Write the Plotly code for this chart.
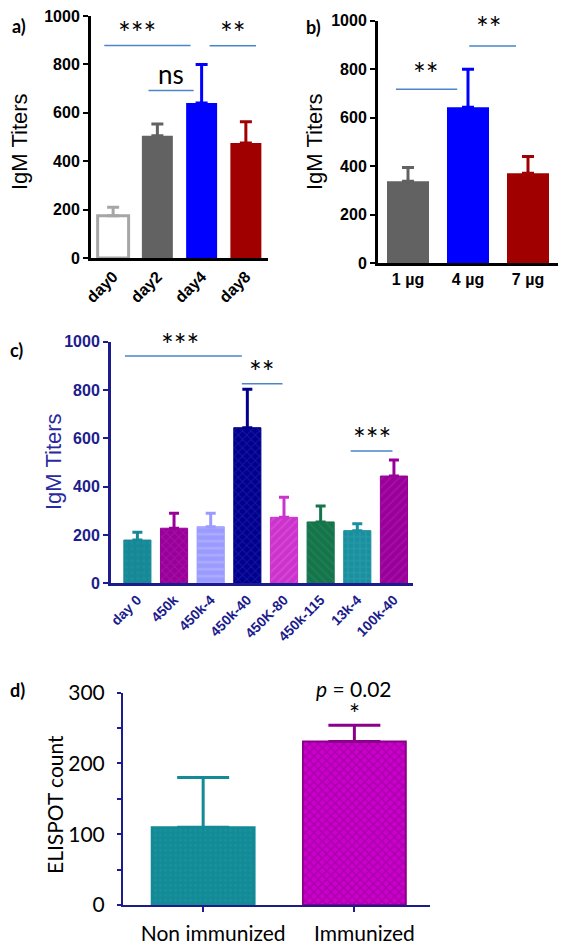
import plotly.graph_objects as go

W, H = 568, 951

# ---------------- data ----------------
a_cats = ["day0", "day2", "day4", "day8"]
a_vals = [175, 505, 640, 475]
a_errs = [35, 49, 160, 88]
a_fill = ["#ffffff", "#626262", "#0000ff", "#a00000"]
a_line = ["#a6a6a6", "#626262", "#0000ff", "#a00000"]

b_cats = ["1 µg", "4 µg", "7 µg"]
b_vals = [337, 643, 370]
b_errs = [57, 157, 70]
b_fill = ["#626262", "#0000ff", "#a00000"]

c_cats = ["day 0", "450k", "450k-4", "450k-40", "450K-80", "450k-115", "13k-4", "100k-40"]
c_vals = [179, 228, 234, 644, 273, 254, 218, 444]
c_errs = [32, 62, 56, 159, 83, 66, 28, 66]
c_fill = ["#178896", "#990099", "#9a9aff", "#00008b", "#cc33cc", "#15744a", "#1a8f9e", "#990099"]
c_pfg = ["#1e95a3", "#b020b0", "#c4c4ff", "#2a2ac0", "#e060e0", "#2a8a5e", "#3aaab8", "#b020b0"]
c_shape = [".", "x", "-", "x", "/", "\\", "+", "/"]

d_cats = ["Non immunized", "Immunized"]
d_vals = [110, 231]
d_errs = [70, 23]
d_fill = ["#138a96", "#cc00cc"]
d_pfg = ["#1a9aa6", "#8b008b"]
d_edge = ["#138a96", "#8b008b"]
d_shape = [".", "x"]

# significance brackets: (x0, x1, y_line, text, x_text, y_text, size)
sig_a = [(-0.2, 1.75, 878, "***", 0.55, 935, 30), (0.8, 1.82, 692, "ns", 1.3, 760, 26),
         (2.18, 3.23, 877, "**", 2.7, 935, 30)]
sig_b = [(-0.2, 0.82, 717, "**", 0.3, 785, 30), (1.02, 1.8, 896, "**", 1.35, 975, 30)]
sig_c = [(-0.34, 2.85, 941, "***", 1.17, 990, 30), (2.85, 3.96, 826, "**", 3.4, 880, 30),
         (5.82, 6.96, 548, "***", 6.4, 600, 30)]

NAVY = "#1c1c8c"
SIGBLUE = "#4a86c8"


def px(x):
    return x / W


def py(y):
    return 1 - y / H


fig = go.Figure()

# ---- panel a ----
for i, c in enumerate(a_cats):
    fig.add_trace(go.Bar(
        x=[c], y=[a_vals[i]], width=0.7, xaxis="x", yaxis="y",
        marker=dict(color=a_fill[i], line=dict(color=a_line[i], width=3 if i == 0 else 0)),
        error_y=dict(type="data", array=[a_errs[i]], arrayminus=[0], symmetric=False,
                     color=a_line[i], thickness=3, width=6),
        showlegend=False, hoverinfo="skip"))

# ---- panel b ----
for i, c in enumerate(b_cats):
    fig.add_trace(go.Bar(
        x=[c], y=[b_vals[i]], width=0.7, xaxis="x2", yaxis="y2",
        marker=dict(color=b_fill[i], line=dict(width=0)),
        error_y=dict(type="data", array=[b_errs[i]], arrayminus=[0], symmetric=False,
                     color=b_fill[i], thickness=3, width=6),
        showlegend=False, hoverinfo="skip"))

# ---- panel c ----
for i, c in enumerate(c_cats):
    fig.add_trace(go.Bar(
        x=[c], y=[c_vals[i]], width=0.74, xaxis="x3", yaxis="y3",
        marker=dict(color=c_fill[i], line=dict(color=c_fill[i], width=1),
                    pattern=dict(shape=c_shape[i], fgcolor=c_pfg[i], bgcolor=c_fill[i],
                                 size=6 if c_shape[i] != "-" else 7, solidity=0.3)),
        error_y=dict(type="data", array=[c_errs[i]], arrayminus=[0], symmetric=False,
                     color=c_fill[i], thickness=3, width=5),
        showlegend=False, hoverinfo="skip"))

# ---- panel d ----
for i, c in enumerate(d_cats):
    fig.add_trace(go.Bar(
        x=[c], y=[d_vals[i]], width=0.68, xaxis="x4", yaxis="y4",
        marker=dict(color=d_fill[i], line=dict(color=d_edge[i], width=2),
                    pattern=dict(shape=d_shape[i], fgcolor=d_pfg[i], bgcolor=d_fill[i],
                                 size=6 if i == 1 else 5, solidity=0.45 if i == 1 else 0.3)),
        error_y=dict(type="data", array=[d_errs[i]], arrayminus=[0], symmetric=False,
                     color=d_edge[i] if i == 1 else d_fill[i], thickness=3, width=26),
        showlegend=False, hoverinfo="skip"))

bold_ab = dict(family="Liberation Sans", size=16, color="black", weight="bold")
bold_c = dict(family="Liberation Sans", size=16, color=NAVY, weight="bold")

common = dict(showgrid=False, zeroline=False, automargin=False)

fig.update_layout(
    width=W, height=H, margin=dict(l=0, r=0, t=0, b=0, autoexpand=False),
    paper_bgcolor="white", plot_bgcolor="white", barmode="overlay",
    xaxis=dict(domain=[px(91), px(268)], range=[-0.5, 3.5], type="category",
               showline=True, linecolor="black", linewidth=3, ticks="",
               tickangle=-45, tickfont=bold_ab, anchor="y", **common),
    yaxis=dict(domain=[py(258), py(16)], range=[0, 1000], dtick=200,
               showline=True, linecolor="black", linewidth=3, ticks="outside", ticklen=5,
               tickwidth=2, tickcolor="black", tickfont=bold_ab, anchor="x", **common),
    xaxis2=dict(domain=[px(378), px(558)], range=[-0.5, 2.5], type="category",
                showline=True, linecolor="black", linewidth=3, ticks="",
                tickangle=0, tickfont=bold_ab, anchor="y2", **common),
    yaxis2=dict(domain=[py(263), py(20.7)], range=[0, 1000], dtick=200,
                showline=True, linecolor="black", linewidth=3, ticks="outside", ticklen=5,
                tickwidth=2, tickcolor="black", tickfont=bold_ab, anchor="x2", **common),
    xaxis3=dict(domain=[px(111), px(413)], range=[-0.72, 7.52], type="category",
                showline=True, linecolor=NAVY, linewidth=3, ticks="",
                tickangle=-45, tickfont=dict(family="Liberation Sans", size=14, color=NAVY, weight="bold"),
                anchor="y3", **common),
    yaxis3=dict(domain=[py(583.3), py(341.7)], range=[0, 1000], dtick=200,
                showline=True, linecolor=NAVY, linewidth=3, ticks="outside", ticklen=5,
                tickwidth=2, tickcolor=NAVY, tickfont=bold_c, anchor="x3", **common),
    xaxis4=dict(domain=[px(123), px(430)], range=[-0.53, 1.5], type="category",
                showline=True, linecolor=NAVY, linewidth=2, ticks="outside", ticklen=5,
                tickwidth=2, tickcolor=NAVY, ticklabelshift=10, ticklabelstandoff=4,
                tickfont=dict(family="Lato", size=21, color="black"),
                anchor="y4", **common),
    yaxis4=dict(domain=[py(905), py(692.7)], range=[0, 300], dtick=100,
                showline=True, linecolor=NAVY, linewidth=2, ticks="outside", ticklen=4,
                tickwidth=2, tickcolor=NAVY, ticklabelstandoff=8,
                minor=dict(dtick=50, ticks="outside", ticklen=4, tickwidth=2, tickcolor=NAVY),
                tickfont=dict(family="Lato", size=21, color="black"),
                anchor="x4", **common),
)

shapes = []
annotations = []


def add_sig(sigs, xr, yr):
    for x0, x1, yl, t, xt, yt, sz in sigs:
        shapes.append(dict(type="line", xref=xr, yref=yr, x0=x0, x1=x1, y0=yl, y1=yl,
                           line=dict(color=SIGBLUE, width=1.5)))
        annotations.append(dict(xref=xr, yref=yr, x=xt, y=yt, text=t, showarrow=False,
                                xanchor="center", yanchor="middle",
                                font=dict(family="Lato", size=sz, color="black")))


add_sig(sig_a, "x", "y")
add_sig(sig_b, "x2", "y2")
add_sig(sig_c, "x3", "y3")

# panel d p-value
annotations.append(dict(xref="x4", yref="paper", x=1, y=py(688), text="<i>p</i> = 0.02", showarrow=False,
                        xanchor="center", yanchor="middle",
                        font=dict(family="Lato", size=21, color="black")))
annotations.append(dict(xref="x4", yref="paper", x=1, y=py(714), text="*", showarrow=False,
                        xanchor="center", yanchor="middle",
                        font=dict(family="Lato", size=26, color="black")))

# axis titles
for (x, y, t, col, fam, sz) in [(20, 142, "IgM Titers", "black", "Liberation Sans", 22),
                                (315, 142, "IgM Titers", "black", "Liberation Sans", 22),
                                (53, 462, "IgM Titers", "#2a2aa0", "Liberation Sans", 22),
                                (54, 805, "ELISPOT count", "black", "Lato", 21)]:
    annotations.append(dict(xref="paper", yref="paper", x=px(x), y=py(y), text=t,
                            textangle=-90, showarrow=False, xanchor="center", yanchor="middle",
                            font=dict(family=fam, size=sz, color=col)))

# panel labels
for (x, y, t) in [(19, 26, "a)"), (313, 27, "b)"), (16, 350, "c)"), (17, 690, "d)")]:
    annotations.append(dict(xref="paper", yref="paper", x=px(x), y=py(y), text="<b>" + t + "</b>",
                            showarrow=False, xanchor="center", yanchor="middle",
                            font=dict(family="Lato", size=18, color="black")))

fig.update_layout(shapes=shapes, annotations=annotations)
fig.write_html("out.html", post_script="document.body.style.margin='0px';",
               config={"displayModeBar": False})
